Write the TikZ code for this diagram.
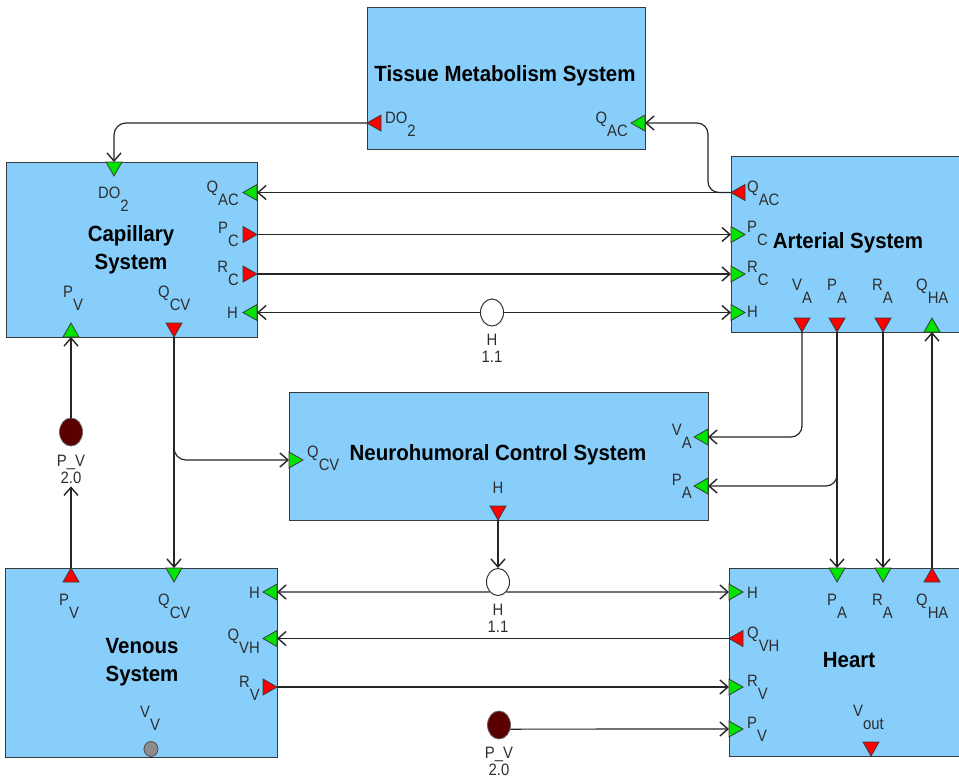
\documentclass[tikz,border=0pt]{standalone}
\usepackage{fontspec}
\setmainfont{Liberation Sans}
\newfontfamily\labelfont[FakeStretch=0.9]{Liberation Sans}
\newfontfamily\titlefont[FakeStretch=0.93]{Liberation Sans}
\usetikzlibrary{arrows.meta,shapes.geometric}
\definecolor{boxfill}{HTML}{87CEFA}
\definecolor{portgreen}{HTML}{00E400}
\definecolor{portred}{HTML}{FF0000}
\definecolor{edgegray}{HTML}{3A3A3A}
\definecolor{ink}{HTML}{2E2E2E}
\definecolor{paramred}{HTML}{5A0000}
% variable name with a lowered index, as the port labels show it
\newcommand\sublab[2]{#1\raisebox{-13pt}{#2}}

\begin{document}
\begin{tikzpicture}[x=1pt,y=-1pt,
  block/.style={draw=edgegray, line width=1.3pt, fill=boxfill, inner sep=0pt, anchor=north west},
  title/.style={font=\titlefont\fontsize{22}{28}\selectfont\bfseries, align=center, inner sep=0pt},
  lbl/.style={font=\labelfont\fontsize{16.5}{17}\selectfont, text=ink, inner sep=0pt},
  arr/.style={draw=black!85, line width=1.2pt, -{Straight Barb[length=8pt,width=14pt,line width=1.4pt]}},
  inport/.pic={\filldraw[draw=edgegray, line width=0.8pt, fill=#1] (0,-8) -- (14,0) -- (0,8) -- cycle;},
  outport/.pic={\filldraw[draw=edgegray, line width=0.8pt, fill=#1] (0,0) -- (-14,-8) -- (-14,8) -- cycle;},
  junction/.style={ellipse, draw=black!80, line width=1pt, fill=white, minimum width=23pt, minimum height=27pt, inner sep=0pt},
  paramnode/.style={ellipse, draw=black!60, line width=0.8pt, fill=paramred, minimum width=23pt, minimum height=28pt, inner sep=0pt},
]
\useasboundingbox (0,0) rectangle (959,777);
\clip (0,0) rectangle (959,777);
\fill[white] (0,0) rectangle (959,777);

% ---------------- blocks ----------------
\node[block, minimum width=278pt, minimum height=142pt] (tms) at (367,7) {};
\node[block, minimum width=251pt, minimum height=175pt] (cap) at (6,162) {};
\node[block, minimum width=240pt, minimum height=176pt] (art) at (731,156) {};
\node[block, minimum width=419pt, minimum height=128pt] (nhc) at (289,392) {};
\node[block, minimum width=272pt, minimum height=189pt] (ven) at (5,568) {};
\node[block, minimum width=240pt, minimum height=188pt] (hrt) at (729,568) {};

\node[title] (tmsT) at (505,76) {Tissue Metabolism System};
\node[title] (capT) at (131,250) {Capillary\\System};
\node[title] (artT) at (848,243) {Arterial System};
\node[title] (nhcT) at (498,455) {Neurohumoral Control System};
\node[title] (venT) at (142,662) {Venous\\System};
\node[title] (hrtT) at (849,660) {Heart};

% ---------------- ports ----------------
% tissue metabolism
\coordinate (tDO) at (367,123);
\coordinate (tQAC) at (645,123);
% capillary
\coordinate (cDO) at (114,162);
\coordinate (cQAC) at (257,192.5);
\coordinate (cPC) at (257,234.5);
\coordinate (cRC) at (257,274);
\coordinate (cH) at (257,312.5);
\coordinate (cPV) at (71,337);
\coordinate (cQCV) at (174,337);
% arterial
\coordinate (aQAC) at (731,192.5);
\coordinate (aPC) at (731,234.5);
\coordinate (aRC) at (731,274);
\coordinate (aH) at (731,312.5);
\coordinate (aVA) at (802,332);
\coordinate (aPA) at (837,332);
\coordinate (aRA) at (883,332);
\coordinate (aQHA) at (932,332);
% neurohumoral
\coordinate (nQCV) at (289,460);
\coordinate (nVA) at (708,437);
\coordinate (nPA) at (708,486);
\coordinate (nH) at (498,520);
% venous
\coordinate (vPV) at (71,568);
\coordinate (vQCV) at (174,568);
\coordinate (vH) at (277,592);
\coordinate (vQVH) at (277,638.5);
\coordinate (vRV) at (277,687);
% heart
\coordinate (hH) at (729,592);
\coordinate (hQVH) at (729,638.5);
\coordinate (hRV) at (729,687);
\coordinate (hPV) at (729,729);
\coordinate (hPA) at (837,568);
\coordinate (hRA) at (883,568);
\coordinate (hQHA) at (932,568);
\coordinate (hVout) at (871,756);

\pic[rotate=180] at (tDO) {outport=portred};
\pic[rotate=180] at (tQAC) {inport=portgreen};

\pic[rotate=270] at (cDO) {inport=portgreen};
\pic[rotate=180] at (cQAC) {inport=portgreen};
\pic at (cPC) {outport=portred};
\pic at (cRC) {outport=portred};
\pic[rotate=180] at (cH) {inport=portgreen};
\pic[rotate=90] at (cPV) {inport=portgreen};
\pic[rotate=270] at (cQCV) {outport=portred};

\pic[rotate=180] at (aQAC) {outport=portred};
\pic at (aPC) {inport=portgreen};
\pic at (aRC) {inport=portgreen};
\pic at (aH) {inport=portgreen};
\pic[rotate=270] at (aVA) {outport=portred};
\pic[rotate=270] at (aPA) {outport=portred};
\pic[rotate=270] at (aRA) {outport=portred};
\pic[rotate=90] at (aQHA) {inport=portgreen};

\pic at (nQCV) {inport=portgreen};
\pic[rotate=180] at (nVA) {inport=portgreen};
\pic[rotate=180] at (nPA) {inport=portgreen};
\pic[rotate=270] at (nH) {outport=portred};

\pic[rotate=90] at (vPV) {outport=portred};
\pic[rotate=270] at (vQCV) {inport=portgreen};
\pic[rotate=180] at (vH) {inport=portgreen};
\pic[rotate=180] at (vQVH) {inport=portgreen};
\pic at (vRV) {outport=portred};

\pic at (hH) {inport=portgreen};
\pic[rotate=180] at (hQVH) {outport=portred};
\pic at (hRV) {inport=portgreen};
\pic at (hPV) {inport=portgreen};
\pic[rotate=270] at (hPA) {inport=portgreen};
\pic[rotate=270] at (hRA) {inport=portgreen};
\pic[rotate=90] at (hQHA) {outport=portred};
\pic[rotate=270] at (hVout) {outport=portred};

\node[ellipse, draw=black!70, line width=0.8pt, fill=black!45, minimum width=14pt, minimum height=15pt, inner sep=0pt] (vVV) at (151,749) {};

% ---------------- port labels ----------------
\node[lbl, anchor=base west] (tDOl) at (385,123) {\sublab{DO}{2}};
\node[lbl, anchor=base east] (tQACl) at (628,123) {\sublab{Q}{AC}};

\node[lbl, anchor=base west] (cDOl) at (98,198) {\sublab{DO}{2}};
\node[lbl, anchor=base east] (cQACl) at (239,192) {\sublab{Q}{AC}};
\node[lbl, anchor=base east] (cPCl) at (239,233) {\sublab{P}{C}};
\node[lbl, anchor=base east] (cRCl) at (239,272) {\sublab{R}{C}};
\node[lbl, anchor=base east] (cHl) at (238,318) {H};
\node[lbl, anchor=base west] (cPVl) at (63,297) {\sublab{P}{V}};
\node[lbl, anchor=base west] (cQCVl) at (158,297) {\sublab{Q}{CV}};

\node[lbl, anchor=base west] (aQACl) at (747,192) {\sublab{Q}{AC}};
\node[lbl, anchor=base west] (aPCl) at (747,232) {\sublab{P}{C}};
\node[lbl, anchor=base west] (aRCl) at (747,272) {\sublab{R}{C}};
\node[lbl, anchor=base west] (aHl) at (747,317) {H};
\node[lbl, anchor=base west] (aVAl) at (792,290) {\sublab{V}{A}};
\node[lbl, anchor=base west] (aPAl) at (827,290) {\sublab{P}{A}};
\node[lbl, anchor=base west] (aRAl) at (872,290) {\sublab{R}{A}};
\node[lbl, anchor=base west] (aQHAl) at (916,290) {\sublab{Q}{HA}};

\node[lbl, anchor=base west] (nQCVl) at (307,457) {\sublab{Q}{CV}};
\node[lbl, anchor=base east] (nVAl) at (692,435) {\sublab{V}{A}};
\node[lbl, anchor=base east] (nPAl) at (692,485) {\sublab{P}{A}};
\node[lbl, anchor=base] (nHl) at (498,493) {H};

\node[lbl, anchor=base west] (vPVl) at (59,605) {\sublab{P}{V}};
\node[lbl, anchor=base west] (vQCVl) at (158,605) {\sublab{Q}{CV}};
\node[lbl, anchor=base east] (vHl) at (260,598) {H};
\node[lbl, anchor=base east] (vQVHl) at (260,640) {\sublab{Q}{VH}};
\node[lbl, anchor=base east] (vRVl) at (260,687) {\sublab{R}{V}};
\node[lbl, anchor=base west] (vVVl) at (140,717) {\sublab{V}{V}};

\node[lbl, anchor=base west] (hHl) at (747,598) {H};
\node[lbl, anchor=base west] (hQVHl) at (747,638) {\sublab{Q}{VH}};
\node[lbl, anchor=base west] (hRVl) at (747,686) {\sublab{R}{V}};
\node[lbl, anchor=base west] (hPVl) at (747,728) {\sublab{P}{V}};
\node[lbl, anchor=base west] (hPAl) at (827,605) {\sublab{P}{A}};
\node[lbl, anchor=base west] (hRAl) at (872,605) {\sublab{R}{A}};
\node[lbl, anchor=base west] (hQHAl) at (916,605) {\sublab{Q}{HA}};
\node[lbl, anchor=base west] (hVoutl) at (853,716) {\sublab{V}{out}};

% ---------------- junctions and parameters ----------------
\node[junction] (hc1) at (492,312.5) {};
\node[lbl, anchor=base] (hc1n) at (492,345) {H};
\node[lbl, anchor=base] (hc1v) at (492,362) {1.1};

\node[junction] (hc2) at (498,582) {};
\node[lbl, anchor=base] (hc2n) at (498,615) {H};
\node[lbl, anchor=base] (hc2v) at (498,632) {1.1};

\node[paramnode] (pv1) at (71,432) {};
\node[lbl, anchor=base] (pv1n) at (71,466) {P\_V};
\node[lbl, anchor=base, inner sep=3pt] (pv1v) at (71,483) {2.0};

\node[paramnode] (pv2) at (499,725) {};
\node[lbl, anchor=base] (pv2n) at (499,758) {P\_V};
\node[lbl, anchor=base] (pv2v) at (499,775) {2.0};

% ---------------- connectors ----------------
\coordinate (qacbend) at (708,123);
\draw[arr, rounded corners=12pt] (tDO) -| (cDO);
\draw[arr, rounded corners=11pt] (aQAC) -| (qacbend) -- (tQAC);
\draw[arr] (aQAC) -- (cQAC);
\draw[arr] (cPC) -- (aPC);
\draw[arr] (cRC) -- (aRC);
\draw[arr] (hc1.west) -- (cH);
\draw[arr] (hc1.east) -- (aH);

\draw[arr, rounded corners=11pt] (aVA) |- (nVA);
\draw[arr, rounded corners=11pt] (aPA) |- (nPA);
\draw[arr] (aPA) -- (hPA);
\draw[arr] (aRA) -- (hRA);
\draw[arr] (hQHA) -- (aQHA);

\draw[arr] (cQCV) -- (vQCV);
\draw[arr, rounded corners=12pt] (cQCV) |- (nQCV);

\draw[arr] (vPV) -- (pv1v.south);
\draw[arr] (pv1.north) -- (cPV);

\draw[arr] (nH) -- (hc2.north);
\draw[arr] (hc2.south west) -- (vH);
\draw[arr] (hc2.south east) -- (hH);
\draw[arr] (hQVH) -- (vQVH);
\draw[arr] (vRV) -- (hRV);
\draw[arr] (pv2.-20) -- (hPV);
\end{tikzpicture}
\end{document}
